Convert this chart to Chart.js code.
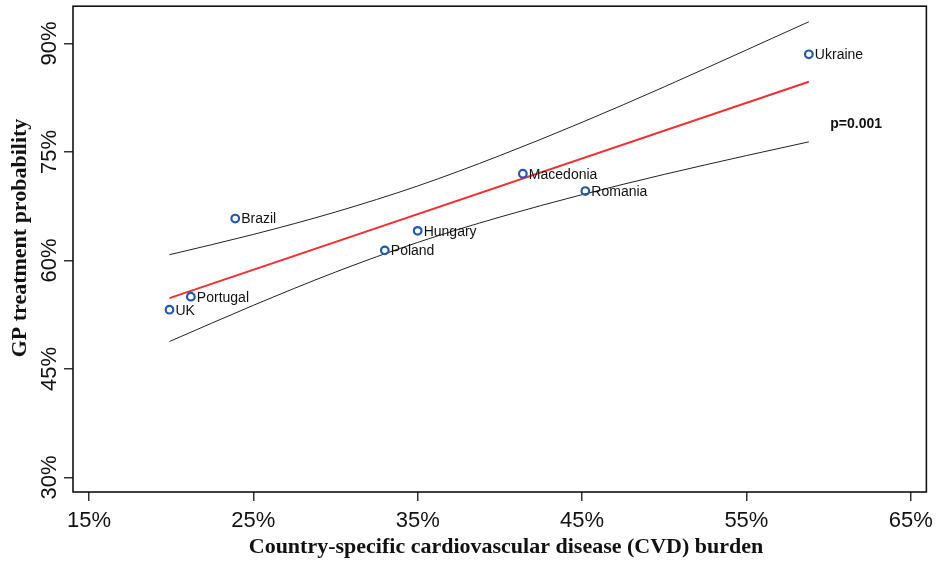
<!DOCTYPE html>
<html>
<head>
<meta charset="utf-8">
<script src="https://cdn.jsdelivr.net/npm/chart.js@4"></script>
<style>
html, body { margin: 0; padding: 0; background: #fff; }
</style>
</head>
<body>
<canvas id="chart" width="940" height="561"></canvas>
<script>
// values (percent)
const countries = ['UK', 'Portugal', 'Brazil', 'Poland', 'Hungary', 'Macedonia', 'Romania', 'Ukraine'];
const cvdBurden = [19.9, 21.2, 23.9, 33.0, 35.0, 41.4, 45.2, 58.8];
const gpProb = [53.2, 55.0, 65.8, 61.4, 64.1, 72.0, 69.6, 88.5];

const fitX = [19.9, 58.8];
const fitY = [54.8, 84.7];

const bandX = [19.9, 25, 30, 35, 40, 45, 50, 55, 58.8];
const bandUpper = [60.8, 63.6, 66.7, 70.3, 74.5, 79.1, 84.0, 89.1, 93.0];
const bandLower = [48.8, 53.8, 58.4, 62.5, 66.0, 69.1, 71.9, 74.5, 76.4];

const xTicks = [15, 25, 35, 45, 55, 65];
const yTicks = [30, 45, 60, 75, 90];

const pValueText = 'p=0.001';
const pValuePos = { x: 60.1, y: 78.9 };

const xTitle = 'Country-specific cardiovascular disease (CVD) burden';
const yTitle = 'GP treatment probability';

const pairs = (xs, ys) => xs.map((x, i) => ({ x: x, y: ys[i] }));

const sans = '"Liberation Sans", Arial, sans-serif';
const serif = '"Liberation Serif", "DejaVu Serif", serif';

const decorations = {
  id: 'decorations',
  afterDraw(chart) {
    const ctx = chart.ctx;
    const area = chart.chartArea;
    const xs = chart.scales.x;
    const ys = chart.scales.y;
    ctx.save();

    // box round the plot
    ctx.strokeStyle = '#111';
    ctx.lineWidth = 1.6;
    ctx.strokeRect(area.left, area.top, area.right - area.left, area.bottom - area.top);

    // rotated y tick labels
    ctx.fillStyle = '#111';
    ctx.font = '22px ' + sans;
    ctx.textAlign = 'center';
    ctx.textBaseline = 'alphabetic';
    yTicks.forEach(v => {
      ctx.save();
      ctx.translate(56, ys.getPixelForValue(v));
      ctx.rotate(-Math.PI / 2);
      ctx.fillText(v + '%', 0, 0);
      ctx.restore();
    });

    // country labels
    ctx.font = '14px ' + sans;
    ctx.textAlign = 'left';
    ctx.textBaseline = 'middle';
    countries.forEach((name, i) => {
      const px = xs.getPixelForValue(cvdBurden[i]);
      const py = ys.getPixelForValue(gpProb[i]);
      ctx.fillText(name, px + 6, py + 1);
    });

    // p value
    ctx.font = 'bold 14px ' + sans;
    ctx.fillText(pValueText, xs.getPixelForValue(pValuePos.x), ys.getPixelForValue(pValuePos.y));

    // axis titles
    ctx.font = 'bold 22px ' + serif;
    ctx.textAlign = 'center';
    ctx.textBaseline = 'alphabetic';
    ctx.fillText(xTitle, 506, 553);
    ctx.save();
    ctx.translate(26, 238);
    ctx.rotate(-Math.PI / 2);
    ctx.fillText(yTitle, 0, 0);
    ctx.restore();

    ctx.restore();
  }
};

new Chart(document.getElementById('chart'), {
  type: 'scatter',
  data: {
    datasets: [
      {
        data: pairs(cvdBurden, gpProb),
        showLine: false,
        pointStyle: 'circle',
        pointRadius: 3.8,
        pointBorderWidth: 2.2,
        borderColor: '#2459aa',
        backgroundColor: 'rgba(255,255,255,0)'
      },
      {
        type: 'line',
        data: pairs(fitX, fitY),
        borderColor: '#f03030',
        borderWidth: 2,
        pointRadius: 0,
        fill: false
      },
      {
        type: 'line',
        data: pairs(bandX, bandUpper),
        borderColor: '#222',
        borderWidth: 1,
        pointRadius: 0,
        cubicInterpolationMode: 'monotone',
        fill: false
      },
      {
        type: 'line',
        data: pairs(bandX, bandLower),
        borderColor: '#222',
        borderWidth: 1,
        pointRadius: 0,
        cubicInterpolationMode: 'monotone',
        fill: false
      }
    ]
  },
  options: {
    responsive: false,
    devicePixelRatio: 1,
    animation: false,
    layout: { padding: { left: 0, top: 6, right: 12, bottom: 0 } },
    plugins: { legend: { display: false }, tooltip: { enabled: false } },
    scales: {
      x: {
        type: 'linear',
        min: 14.03,
        max: 65.95,
        afterBuildTicks: s => { s.ticks = xTicks.map(v => ({ value: v })); },
        afterFit: s => { s.height = 69; },
        border: { display: false },
        grid: { drawOnChartArea: false, drawTicks: true, tickLength: 9, color: '#333', lineWidth: 1.5 },
        ticks: {
          font: { family: sans, size: 22 },
          color: '#111',
          padding: 7,
          maxRotation: 0,
          callback: v => v + '%'
        }
      },
      y: {
        type: 'linear',
        min: 28.0,
        max: 95.15,
        afterBuildTicks: s => { s.ticks = yTicks.map(v => ({ value: v })); },
        afterFit: s => { s.width = 73; },
        border: { display: false },
        grid: { drawOnChartArea: false, drawTicks: true, tickLength: 9, color: '#333', lineWidth: 1.5 },
        ticks: { display: false }
      }
    }
  },
  plugins: [decorations]
});
</script>
</body>
</html>
